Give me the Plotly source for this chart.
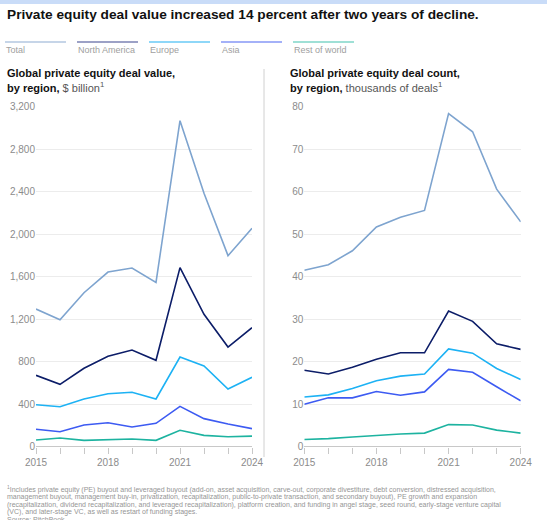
import plotly.graph_objects as go

W, H = 547, 520

years = list(range(2015, 2025))
regions = ['Total', 'North America', 'Europe', 'Asia', 'Rest of world']
line_colors = ['#7ea4cf', '#0c1d68', '#1db2f4', '#3d5bf2', '#1db3a0']
legend_colors = ['#c6d5e8', '#9ca1c6', '#8ed7f8', '#a4b1f8', '#9fe0d6']

# deal value, $ billion
value_total = [1296, 1195, 1449, 1644, 1682, 1547, 3068, 2385, 1798, 2055]
value_na = [672, 587, 738, 851, 910, 813, 1685, 1246, 938, 1120]
value_europe = [395, 376, 449, 499, 512, 449, 844, 760, 543, 653]
value_asia = [164, 141, 204, 226, 185, 220, 380, 264, 214, 170]
value_row = [63, 82, 60, 63, 72, 60, 154, 107, 94, 100]

# deal count, thousands of deals
count_total = [41.5, 42.8, 46.1, 51.7, 54.0, 55.6, 78.4, 74.1, 60.6, 52.9]
count_na = [18.0, 17.1, 18.7, 20.6, 22.1, 22.1, 31.9, 29.5, 24.2, 22.9]
count_europe = [11.7, 12.2, 13.7, 15.5, 16.6, 17.1, 23.0, 22.0, 18.4, 15.8]
count_asia = [10.0, 11.5, 11.5, 13.0, 12.1, 12.9, 18.2, 17.5, 14.1, 10.8]
count_row = [1.7, 1.9, 2.3, 2.7, 3.0, 3.2, 5.2, 5.1, 3.9, 3.2]

value_series = [value_total, value_na, value_europe, value_asia, value_row]
count_series = [count_total, count_na, count_europe, count_asia, count_row]

title = 'Private equity deal value increased 14 percent after two years of decline.'
footnote = [
    '<sup>1</sup>Includes private equity (PE) buyout and leveraged buyout (add-on, asset acquisition, carve-out, corporate divestiture, debt conversion, distressed acquisition,',
    'management buyout, management buy-in, privatization, recapitalization, public-to-private transaction, and secondary buyout), PE growth and expansion',
    '(recapitalization, dividend recapitalization, and leveraged recapitalization), platform creation, and funding in angel stage, seed round, early-stage venture capital',
    '(VC), and later-stage VC, as well as restart of funding stages.',
    'Source: PitchBook',
]

FONT = 'Liberation Sans'


def px(x):
    return x / W


def py(y):
    return 1 - y / H


fig = go.Figure()

for vals, cnts, name, col in zip(value_series, count_series, regions, line_colors):
    fig.add_trace(go.Scatter(x=years, y=vals, name=name, mode='lines',
                             line=dict(color=col, width=1.6), xaxis='x', yaxis='y'))
    fig.add_trace(go.Scatter(x=years, y=cnts, name=name, mode='lines',
                             line=dict(color=col, width=1.6), xaxis='x2', yaxis='y2'))

xax = dict(range=[2015, 2024], tickvals=[2015, 2018, 2021, 2024], ticks='outside',
           ticklen=6, tickcolor='#c8c8c8', showgrid=False, showline=False, zeroline=False,
           automargin=False, tickfont=dict(size=10, color='#8c8c8c', family=FONT),
           minor=dict(dtick=1, ticks='outside', ticklen=6, tickcolor='#c8c8c8'))
yax = dict(showgrid=True, gridcolor='#ececec', gridwidth=1, zeroline=True,
           zerolinecolor='#c8c8c8', zerolinewidth=1, showline=False, ticks='',
           automargin=False, tickfont=dict(size=10, color='#8c8c8c', family=FONT))

ydom = [py(446.7), py(106.7)]
fig.update_layout(
    width=W, height=H, margin=dict(l=0, r=0, t=0, b=0, autoexpand=False),
    paper_bgcolor='white', plot_bgcolor='white', showlegend=False,
    font=dict(family=FONT),
    xaxis=dict(xax, domain=[px(36), px(252)], anchor='y'),
    yaxis=dict(yax, domain=ydom, range=[0, 3200], dtick=400, tickformat=',', anchor='x'),
    xaxis2=dict(xax, domain=[px(304.3), px(520.7)], anchor='y2'),
    yaxis2=dict(yax, domain=ydom, range=[0, 80], dtick=10, anchor='x2'),
)

# top strip and divider
fig.add_shape(type='rect', xref='paper', yref='paper', x0=0, x1=1, y0=py(4), y1=1,
              fillcolor='#c9dcf8', line=dict(width=0))
fig.add_shape(type='line', xref='paper', yref='paper', x0=px(264), x1=px(264),
              y0=py(457), y1=py(69), line=dict(color='#d0d0d0', width=1))

fig.add_annotation(text='<b>' + title + '</b>', xref='paper', yref='paper',
                   x=px(5), y=py(14), xanchor='left', yanchor='middle', showarrow=False,
                   font=dict(size=13.7, color='#111111', family=FONT))

# legend
for i, (name, col) in enumerate(zip(regions, legend_colors)):
    x0 = 5 + 72 * i
    fig.add_shape(type='line', xref='paper', yref='paper', x0=px(x0), x1=px(x0 + 61),
                  y0=py(42), y1=py(42), line=dict(color=col, width=2))
    fig.add_annotation(text=name, xref='paper', yref='paper', x=px(x0 - 1), y=py(50),
                       xanchor='left', yanchor='middle', showarrow=False,
                       font=dict(size=9, color='#a0a0a0', family=FONT))

# panel titles
for x0, l1, l2b, l2 in [(5, 'Global private equity deal value,', 'by region,', ' $ billion<sup>1</sup>'),
                        (288, 'Global private equity deal count,', 'by region,', ' thousands of deals<sup>1</sup>')]:
    fig.add_annotation(text='<b>' + l1 + '</b>', xref='paper', yref='paper', x=px(x0), y=py(73),
                       xanchor='left', yanchor='middle', showarrow=False,
                       font=dict(size=11, color='#111111', family=FONT))
    fig.add_annotation(text='<b>' + l2b + '</b><span style="color:#555555">' + l2 + '</span>',
                       xref='paper', yref='paper', x=px(x0), y=py(87),
                       xanchor='left', yanchor='middle', showarrow=False,
                       font=dict(size=11, color='#111111', family=FONT))

# footnote
for i, line in enumerate(footnote):
    fig.add_annotation(text=line, xref='paper', yref='paper', x=px(5), y=py(489.5 + 7.6 * i),
                       xanchor='left', yanchor='middle', showarrow=False,
                       font=dict(size=7.0, color='#959595', family=FONT))

# page has a default body margin; drop it so the figure sits at the window corner
fig.write_html('out.html', config={'displayModeBar': False},
               post_script="document.body.style.margin='0';")
